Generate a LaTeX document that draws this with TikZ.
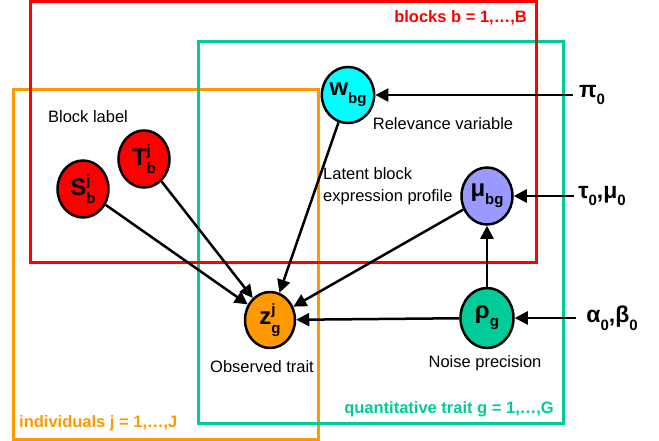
\documentclass[tikz,border=0pt]{standalone}
\usepackage{fontspec}
\setmainfont{Liberation Sans}
\usetikzlibrary{shapes.geometric,arrows.meta}
\definecolor{cred}{RGB}{255,0,0}
\definecolor{cteal}{RGB}{0,204,153}
\definecolor{corange}{RGB}{255,153,0}
\definecolor{ccyan}{RGB}{0,255,255}
\definecolor{cblue}{RGB}{153,153,255}
\newcommand{\nsb}[2]{#1\raisebox{-0.33em}{\fontsize{15}{15}\selectfont #2}}
\newcommand{\nsbp}[3]{#1\makebox[0pt][l]{\raisebox{0.42em}{\fontsize{15}{15}\selectfont #3}}\raisebox{-0.36em}{\fontsize{15}{15}\selectfont #2}}
\begin{document}
\begin{tikzpicture}[x=1pt,y=-1pt,
  plate/.style={line width=3pt},
  platelabel/.style={font=\bfseries\fontsize{16.5}{18}\selectfont, inner sep=0pt},
  var/.style={ellipse, draw=black, line width=2.5pt, inner sep=0pt,
    minimum width=51pt, minimum height=57pt, font=\bfseries\fontsize{24}{24}\selectfont},
  hyper/.style={font=\bfseries\fontsize{23}{23}\selectfont, inner sep=6pt},
  lbl/.style={font=\fontsize{16.5}{22}\selectfont, inner sep=0pt},
  arr/.style={line width=2.5pt, -{Triangle[length=13pt,width=13pt]}}]
\useasboundingbox (0,0) rectangle (659,441);
% plates
\draw[plate, corange] (13,90) rectangle (318,439);
\draw[plate, cteal] (198,42) rectangle (563,423);
\draw[plate, cred] (30,2) rectangle (536,262);
\node[platelabel, text=cred, anchor=east] (lb) at (527,18) {blocks b = 1,…,B};
\node[platelabel, text=cteal, anchor=east] (lg) at (554,409) {quantitative trait g = 1,…,G};
\node[platelabel, text=corange, anchor=west] (lj) at (19,423) {individuals j = 1,…,J};
% variables
\node[var, fill=cred] (T) at (144,159) {\nsbp{T}{b}{j}};
\node[var, fill=cred] (S) at (83,189) {\nsbp{S}{b}{j}};
\node[var, fill=ccyan, minimum width=50pt, minimum height=56pt] (w) at (348,95) {\nsb{w}{bg}};
\node[var, fill=cblue] (mu) at (487,196) {\nsb{μ}{bg}};
\node[var, fill=cteal, minimum width=53pt, minimum height=60pt] (rho) at (487,318) {\nsb{ρ}{g}};
\node[var, fill=corange, minimum width=50pt, minimum height=56pt] (z) at (270,320) {\nsbp{z}{g}{j}};
% hyperparameters
\node[hyper] (pi) at (592,95) {\nsb{π}{0}};
\node[hyper, inner sep=4pt] (tau) at (602,196) {\nsb{τ}{0},\nsb{μ}{0}};
\node[hyper, inner sep=10pt] (ab) at (612,318) {\nsb{α}{0},\nsb{β}{0}};
% text labels
\node[lbl] (bl) at (88,117) {Block label};
\node[lbl] (rv) at (443,124) {Relevance variable};
\node[lbl, align=left, anchor=west] (lt) at (323,186) {Latent block\\expression profile};
\node[lbl] (ot) at (262,367) {Observed trait};
\node[lbl] (np) at (485,363) {Noise precision};
% connectors
\draw[arr] (pi.west) -- (w);
\draw[arr] (tau.west) -- (mu);
\draw[arr] (ab.west) -- (rho);
\draw[arr] (rho) -- (mu);
\draw[arr] (rho) -- (z);
\draw[arr] (mu) -- (z);
\draw[arr] (w) -- (z);
\draw[arr] (T) -- (z);
\draw[arr] (S) -- (z);
\end{tikzpicture}
\end{document}
